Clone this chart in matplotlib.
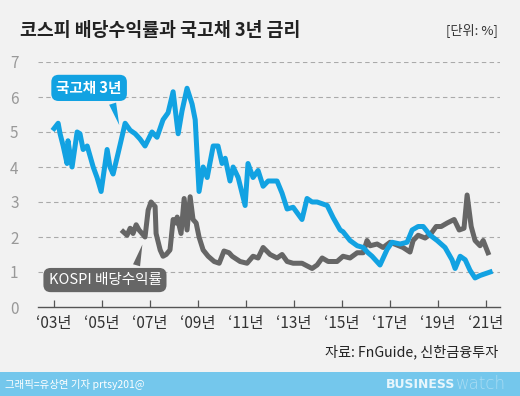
import numpy as np
import matplotlib
matplotlib.use("Agg")
import matplotlib.pyplot as plt
from matplotlib.patches import Rectangle

plt.rcParams['font.family'] = ['Noto Sans CJK KR', 'DejaVu Sans']

# 국고채 3년 금리 (year, %)
bond_year = [2003.00, 2003.17, 2003.25, 2003.38, 2003.54, 2003.58, 2003.75, 2003.96,
             2004.08, 2004.21, 2004.38, 2004.63, 2004.79, 2004.96, 2005.21, 2005.33,
             2005.46, 2005.67, 2005.96, 2006.17, 2006.38, 2006.58, 2006.79, 2007.08,
             2007.29, 2007.54, 2007.75, 2007.96, 2008.17, 2008.33, 2008.54, 2008.75,
             2008.88, 2009.04, 2009.21, 2009.38, 2009.63, 2009.83, 2010.00, 2010.13,
             2010.33, 2010.46, 2010.67, 2010.96, 2011.08, 2011.29, 2011.50, 2011.71,
             2011.92, 2012.29, 2012.50, 2012.71, 2012.96, 2013.33, 2013.54, 2013.75,
             2013.96, 2014.38, 2014.63, 2014.92, 2015.04, 2015.33, 2015.63, 2015.88,
             2016.08, 2016.25, 2016.58, 2016.88, 2017.08, 2017.42, 2017.71, 2017.92,
             2018.17, 2018.38, 2018.67, 2018.96, 2019.29, 2019.58, 2019.71, 2019.92,
             2020.13, 2020.33, 2020.54, 2020.75, 2021.17]
bond_val = [5.10, 5.25, 4.95, 4.60, 4.10, 4.75, 4.00, 5.00,
            4.95, 4.50, 4.60, 4.00, 3.70, 3.30, 4.50, 4.00,
            3.80, 4.40, 5.25, 5.05, 4.95, 4.80, 4.60, 5.00,
            4.85, 5.35, 5.55, 6.15, 4.95, 5.60, 6.25, 5.80,
            5.35, 3.30, 4.00, 3.70, 4.60, 4.60, 4.10, 4.25,
            3.60, 4.00, 3.70, 2.90, 4.10, 3.70, 3.90, 3.45,
            3.60, 3.60, 3.25, 2.80, 2.85, 2.50, 3.10, 3.00,
            3.00, 2.90, 2.55, 2.20, 2.15, 1.90, 1.75, 1.70,
            1.55, 1.45, 1.20, 1.65, 1.85, 1.80, 1.85, 2.20,
            2.30, 2.30, 2.05, 1.90, 1.70, 1.35, 1.10, 1.45,
            1.35, 1.05, 0.83, 0.90, 1.00]

# KOSPI 배당수익률 (year, %)
kospi_year = [2005.88, 2006.04, 2006.17, 2006.29, 2006.42, 2006.54, 2006.79, 2006.92,
              2007.04, 2007.21, 2007.25, 2007.42, 2007.54, 2007.67, 2007.83, 2007.96,
              2008.08, 2008.13, 2008.29, 2008.42, 2008.54, 2008.67, 2008.79, 2008.92,
              2009.04, 2009.21, 2009.42, 2009.67, 2009.88, 2010.08, 2010.29, 2010.42,
              2010.75, 2011.04, 2011.29, 2011.50, 2011.71, 2012.00, 2012.29, 2012.50,
              2012.71, 2012.96, 2013.33, 2013.75, 2013.96, 2014.17, 2014.42, 2014.79,
              2015.04, 2015.33, 2015.63, 2015.88, 2016.04, 2016.17, 2016.46, 2016.71,
              2017.00, 2017.29, 2017.54, 2017.83, 2017.96, 2018.17, 2018.46, 2018.71,
              2018.92, 2019.13, 2019.38, 2019.67, 2019.88, 2020.08, 2020.21, 2020.38,
              2020.54, 2020.75, 2020.88, 2021.08]
kospi_val = [2.15, 2.05, 2.25, 2.10, 2.35, 2.20, 2.00, 2.77,
             3.00, 2.87, 2.10, 1.63, 1.45, 1.50, 1.63, 2.50,
             2.40, 2.57, 2.10, 3.10, 2.20, 3.15, 2.50, 2.40,
             2.00, 1.63, 1.45, 1.30, 1.25, 1.60, 1.55, 1.45,
             1.30, 1.25, 1.45, 1.40, 1.70, 1.50, 1.40, 1.50,
             1.30, 1.25, 1.25, 1.10, 1.20, 1.40, 1.30, 1.30,
             1.45, 1.40, 1.55, 1.55, 1.90, 1.75, 1.80, 1.70,
             1.85, 1.77, 1.70, 1.57, 1.90, 2.05, 1.97, 2.10,
             2.30, 2.30, 2.40, 2.50, 2.20, 2.25, 3.20, 2.30,
             1.90, 1.75, 1.90, 1.55]

tick_years = [2003, 2005, 2007, 2009, 2011, 2013, 2015, 2017, 2019, 2021]
tick_labels = ["‘03년", "‘05년", "‘07년", "‘09년", "‘11년", "‘13년", "‘15년", "‘17년", "‘19년", "‘21년"]
y_ticks = [0, 1, 2, 3, 4, 5, 6, 7]

BLUE = "#12a2e2"
GRAY = "#666666"
BG = "#f2f2f2"

fig = plt.figure(figsize=(5.2, 3.96), dpi=100, facecolor=BG)
ax = fig.add_axes([38 / 520, 89 / 396, 462 / 520, 245 / 396])
ax.set_facecolor(BG)

ax.plot(kospi_year, kospi_val, color=GRAY, lw=3.6, solid_joinstyle='round', zorder=3)
ax.plot(bond_year, bond_val, color=BLUE, lw=3.6, solid_joinstyle='round', zorder=4)

ax.set_xlim(2002.33, 2021.58)
ax.set_ylim(0, 7)
ax.set_yticks(y_ticks)
for v in y_ticks[1:]:
    ax.axhline(v, color="#aaaaaa", lw=0.8, dashes=(4, 3), zorder=1)

ax.set_xticks(tick_years)
ax.set_xticklabels(tick_labels, fontsize=11, color="#333333")
ax.tick_params(axis='x', direction='in', length=5, width=0.9, color="#555555", pad=6)
ax.tick_params(axis='y', length=0, labelsize=11, labelcolor="#999999", pad=14)
for s in ['top', 'right', 'left']:
    ax.spines[s].set_visible(False)
ax.spines['bottom'].set_color("#555555")
ax.spines['bottom'].set_linewidth(1.0)

# series labels
ax.annotate("국고채 3년", xy=(2005.75, 5.12), xytext=(2004.46, 6.26),
            color="white", fontsize=10.5, fontweight='bold', ha='center', va='center',
            bbox=dict(boxstyle="round,pad=0.35,rounding_size=0.5", fc=BLUE, ec='none'),
            arrowprops=dict(arrowstyle="wedge,tail_width=0.5", fc=BLUE, ec='none',
                            relpos=(0.8, 0.3)), zorder=5)
ax.annotate("KOSPI 배당수익률", xy=(2006.71, 1.86), xytext=(2005.12, 0.77),
            color="white", fontsize=10.5, ha='center', va='center',
            bbox=dict(boxstyle="round,pad=0.35,rounding_size=0.5", fc=GRAY, ec='none'),
            arrowprops=dict(arrowstyle="wedge,tail_width=0.5", fc=GRAY, ec='none',
                            relpos=(0.75, 0.7)), zorder=5)

fig.text(20 / 520, 1 - 30 / 396, "코스피 배당수익률과 국고채 3년 금리", fontsize=13.2,
         fontweight='heavy', color="#222222", va='center', ha='left')
fig.text(498 / 520, 1 - 30 / 396, "[단위: %]", fontsize=9.5, color="#333333",
         va='center', ha='right')
fig.text(498 / 520, 1 - 352 / 396, "자료: FnGuide, 신한금융투자", fontsize=10.2,
         color="#222222", va='center', ha='right')

# footer band
fig.patches.append(Rectangle((0, 0), 1, 24 / 396, transform=fig.transFigure,
                             fc="#74c7ec", ec='none', zorder=0))
fig.text(5 / 520, 12 / 396, "그래픽=유상연 기자 prtsy201@", fontsize=7.5, color="white",
         va='center', ha='left')
fig.text(455 / 520, 12 / 396, "BUSINESS", fontsize=9, fontweight='bold', color="#e8f6fc",
         va='center', ha='right', family='DejaVu Sans')
fig.text(456 / 520, 12 / 396, "watch", fontsize=12, fontweight='light', color="#a9dcf3",
         va='center', ha='left', family='DejaVu Sans')

fig.savefig("out.png", dpi=100, facecolor=BG)
